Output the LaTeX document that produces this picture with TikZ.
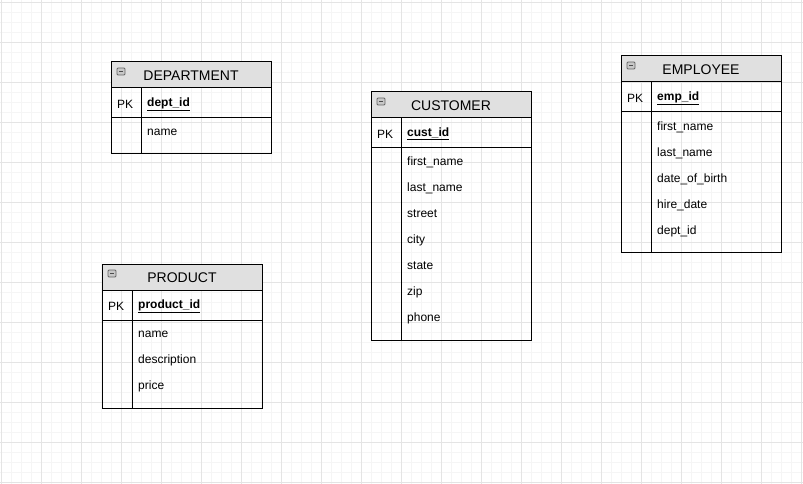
\documentclass[tikz,border=0pt]{standalone}
\usepackage{fontspec}
\setmainfont{Liberation Sans}
\definecolor{gridMinor}{RGB}{245, 245, 245}
\definecolor{gridMajor}{RGB}{228, 228, 228}
\definecolor{headFill}{RGB}{224, 224, 224}
\definecolor{iconFill}{RGB}{200, 200, 200}
\usetikzlibrary{positioning, calc}

\begin{document}
\begin{tikzpicture}[x=1pt, y=-1pt,
    tbl/.style={draw=black, line width=1pt},
    hdr/.style={font=\fontsize{14}{16}\selectfont, anchor=center, inner sep=0pt},
    fld/.style={font=\fontsize{12}{14}\selectfont, anchor=west, inner sep=0pt},
    keyfld/.style={font=\fontsize{12}{14}\selectfont\bfseries, anchor=west, inner sep=0pt},
    icon/.style={draw=black!60, fill=iconFill, rounded corners=1pt, line width=0.8pt}]
    \useasboundingbox (0,0) rectangle (803,484);

    % Background grid
    \foreach \gx in {1,11,...,801} {
        \draw[gridMinor, line width=0.7pt] (\gx,0) -- (\gx,484);
    }
    \foreach \gy in {2,12,...,482} {
        \draw[gridMinor, line width=0.7pt] (0,\gy) -- (803,\gy);
    }
    \foreach \gx in {1,41,...,801} {
        \draw[gridMajor, line width=0.7pt] (\gx,0) -- (\gx,484);
    }
    \foreach \gy in {2,42,...,482} {
        \draw[gridMajor, line width=0.7pt] (0,\gy) -- (803,\gy);
    }

    % DEPARTMENT table
    \fill[headFill] (111,62) rectangle (271,88);
    \draw[tbl] (111,62) rectangle (271,154);
    \draw[tbl] (111,88) -- (271,88) (111,118) -- (271,118) (141,88) -- (141,154);
    \draw[icon] (117,68) rectangle (125,75);
    \draw[black!70, line width=0.8pt] (119,71.5) -- (123,71.5);
    \node[hdr] (dept_head) at (191,76) {DEPARTMENT};
    \node[fld] (dept_pk) at (117,104) {PK};
    \node[keyfld] (dept_key) at (147,104) {\underline{dept\_id}};
    \node[fld] (dept_name) at (147,132) {name};

    % PRODUCT table
    \fill[headFill] (102,264) rectangle (262,290);
    \draw[tbl] (102,264) rectangle (262,408);
    \draw[tbl] (102,290) -- (262,290) (102,320) -- (262,320) (132,290) -- (132,408);
    \draw[icon] (108,270) rectangle (116,277);
    \draw[black!70, line width=0.8pt] (110,273.5) -- (114,273.5);
    \node[hdr] (prod_head) at (182,278) {PRODUCT};
    \node[fld] (prod_pk) at (108,306) {PK};
    \node[keyfld] (prod_key) at (138,306) {\underline{product\_id}};
    \foreach \f/\y [count=\i] in {name/334, description/360, price/386} {
        \node[fld] (prod_f\i) at (138,\y) {\f};
    }

    % CUSTOMER table
    \fill[headFill] (371,92) rectangle (531,118);
    \draw[tbl] (371,92) rectangle (531,340);
    \draw[tbl] (371,118) -- (531,118) (371,148) -- (531,148) (401,118) -- (401,340);
    \draw[icon] (377,98) rectangle (385,105);
    \draw[black!70, line width=0.8pt] (379,101.5) -- (383,101.5);
    \node[hdr] (cust_head) at (451,106) {CUSTOMER};
    \node[fld] (cust_pk) at (377,134) {PK};
    \node[keyfld] (cust_key) at (407,134) {\underline{cust\_id}};
    \foreach \f/\y [count=\i] in {first\_name/162, last\_name/188, street/214,
                                  city/240, state/266, zip/292, phone/318} {
        \node[fld] (cust_f\i) at (407,\y) {\f};
    }

    % EMPLOYEE table
    \fill[headFill] (621,56) rectangle (781,82);
    \draw[tbl] (621,56) rectangle (781,252);
    \draw[tbl] (621,82) -- (781,82) (621,112) -- (781,112) (651,82) -- (651,252);
    \draw[icon] (627,62) rectangle (635,69);
    \draw[black!70, line width=0.8pt] (629,65.5) -- (633,65.5);
    \node[hdr] (emp_head) at (701,70) {EMPLOYEE};
    \node[fld] (emp_pk) at (627,98) {PK};
    \node[keyfld] (emp_key) at (657,98) {\underline{emp\_id}};
    \foreach \f/\y [count=\i] in {first\_name/127, last\_name/153, date\_of\_birth/179,
                                  hire\_date/205, dept\_id/231} {
        \node[fld] (emp_f\i) at (657,\y) {\f};
    }
\end{tikzpicture}
\end{document}
